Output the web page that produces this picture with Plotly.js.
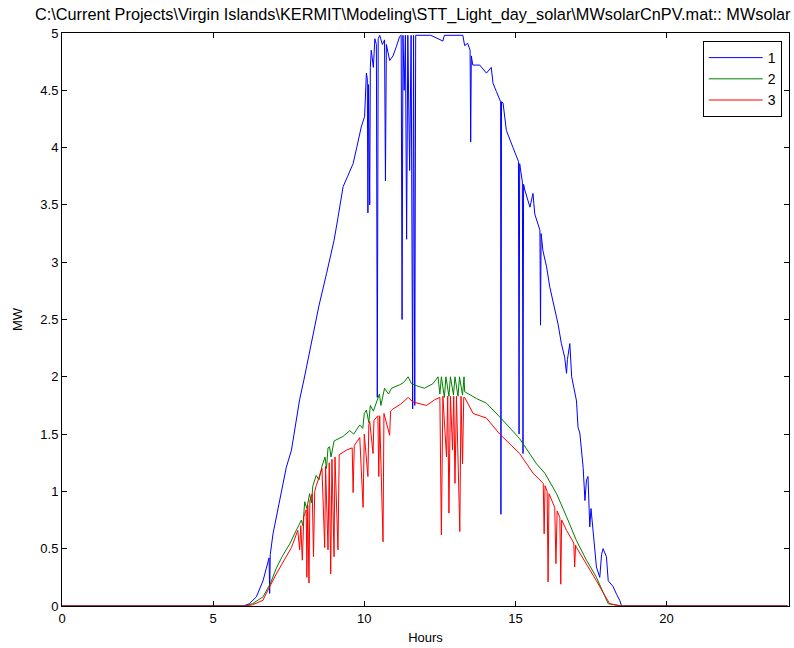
<!DOCTYPE html>
<html>
<head>
<meta charset="utf-8">
<script src="https://cdn.plot.ly/plotly-3.0.1.min.js"></script>
<style>
html,body{margin:0;padding:0;background:#fff;}
#chart{width:794px;height:648px;}
</style>
</head>
<body>
<div id="chart"></div>
<script>
// Series 1 (blue)
var hours1 = [0,6.0,6.2,6.43,6.65,6.81,6.85,6.87,6.89,6.98,7.2,7.42,7.59,7.75,7.86,8.0,8.25,8.5,8.75,9.0,9.13,9.3,9.45,9.63,9.75,9.9,10.01,10.07,10.1,10.12,10.14,10.18,10.2,10.23,10.3,10.35,10.4,10.43,10.46,10.51,10.6,10.67,10.7,10.73,10.84,10.95,11.06,11.17,11.22,11.25,11.28,11.32,11.36,11.4,11.44,11.5,11.55,11.6,11.63,11.67,11.7,11.8,12.2,12.6,12.65,13.0,13.26,13.32,13.42,13.5,13.52,13.54,13.59,13.82,14.04,14.2,14.26,14.37,14.48,14.51,14.52,14.54,14.59,14.7,14.92,15.1,15.12,15.14,15.23,15.25,15.27,15.31,15.48,15.58,15.64,15.81,15.83,15.85,15.91,16.03,16.14,16.41,16.52,16.63,16.69,16.72,16.8,16.86,17.02,17.07,17.13,17.2,17.24,17.3,17.35,17.4,17.46,17.5,17.57,17.63,17.68,17.79,17.85,17.9,18.01,18.07,18.23,18.35,18.45,18.51,24];
var mw1 = [0,0,0.02,0.08,0.22,0.40,0.42,0.11,0.45,0.63,0.92,1.21,1.36,1.62,1.80,1.97,2.30,2.62,2.90,3.19,3.39,3.66,3.75,3.86,4.00,4.18,4.27,4.65,4.60,3.43,4.55,3.50,4.70,4.85,4.70,4.95,4.90,1.82,4.95,4.98,4.90,4.94,3.71,4.90,4.76,4.80,4.88,4.97,4.98,2.50,4.98,4.50,4.98,3.20,4.98,3.80,4.98,1.72,4.98,1.75,4.98,4.98,4.98,4.93,4.98,4.98,4.98,4.89,4.91,4.85,4.05,4.80,4.72,4.72,4.65,4.70,4.56,4.49,4.42,4.40,0.80,4.40,4.39,4.15,4.00,3.88,1.50,3.86,3.70,1.33,3.68,3.63,3.48,3.60,3.42,3.28,2.45,3.25,3.10,2.96,2.78,2.46,2.29,2.17,2.03,2.15,2.29,2.00,1.79,1.56,1.51,1.35,1.21,0.92,1.10,1.13,0.69,0.85,0.63,0.49,0.34,0.25,0.45,0.50,0.43,0.22,0.17,0.10,0.05,0,0];

// Series 2 (green)
var hours2 = [0,6.04,6.3,6.65,6.9,7.09,7.3,7.53,7.75,7.92,7.97,8.03,8.1,8.19,8.25,8.3,8.41,8.5,8.6,8.7,8.75,8.8,8.85,8.9,9.0,9.08,9.3,9.52,9.65,9.85,9.95,10.0,10.07,10.15,10.2,10.3,10.4,10.5,10.55,10.67,10.8,10.9,11.17,11.3,11.45,11.56,11.75,11.99,12.27,12.44,12.5,12.55,12.65,12.7,12.8,12.85,12.95,13.0,13.1,13.15,13.25,13.3,13.32,13.71,14.04,14.48,15.14,15.7,15.97,16.36,16.69,17.02,17.35,17.68,17.9,18.07,18.5,24];
var mw2 = [0,0,0.02,0.08,0.20,0.33,0.44,0.54,0.66,0.75,0.70,0.91,0.85,0.98,0.90,1.05,1.14,1.10,1.22,1.30,1.20,1.38,1.39,1.30,1.44,1.45,1.48,1.53,1.50,1.58,1.55,1.68,1.71,1.60,1.75,1.70,1.78,1.85,1.75,1.90,1.85,1.90,1.93,1.95,2.00,1.94,1.92,1.90,1.94,2.00,1.85,2.00,1.82,2.00,1.83,2.00,1.84,2.00,1.83,2.00,1.84,2.00,1.87,1.81,1.77,1.65,1.46,1.24,1.16,0.98,0.78,0.57,0.40,0.25,0.12,0.02,0,0];

// Series 3 (red)
var hours3 = [0,6.04,6.3,6.65,6.7,7.09,7.59,7.8,7.86,7.9,7.95,8.0,8.08,8.1,8.13,8.17,8.2,8.28,8.32,8.36,8.41,8.5,8.6,8.69,8.72,8.8,8.84,8.89,8.93,9.0,9.03,9.13,9.17,9.41,9.6,9.63,9.67,9.85,9.96,10.0,10.12,10.15,10.18,10.29,10.32,10.45,10.48,10.51,10.62,10.65,10.84,10.87,10.95,11.2,11.45,11.61,12.06,12.33,12.5,12.55,12.6,12.72,12.76,12.8,12.85,12.92,12.96,13.0,13.05,13.16,13.2,13.25,13.29,13.32,13.6,14.04,14.48,15.14,15.58,15.92,15.95,15.98,16.05,16.08,16.11,16.3,16.34,16.38,16.47,16.5,16.53,16.69,16.93,16.96,16.99,17.02,17.35,17.68,17.96,18.12,18.5,24];
var mw3 = [0,0,0.01,0.05,0.08,0.28,0.51,0.66,0.49,0.70,0.40,0.78,0.84,0.25,0.88,0.20,0.92,0.98,0.43,1.00,1.05,1.12,1.20,0.51,1.22,0.49,1.25,0.28,1.28,0.43,1.30,0.49,1.32,1.36,1.38,0.99,1.40,1.47,0.86,1.50,1.13,1.58,1.61,1.33,1.62,1.66,1.13,1.66,0.56,1.68,1.49,1.70,1.72,1.76,1.82,1.78,1.75,1.80,1.82,0.62,1.83,1.30,1.83,0.81,1.83,1.36,1.83,1.07,1.83,0.65,1.83,1.24,1.82,1.82,1.68,1.64,1.50,1.33,1.16,1.07,0.63,1.05,1.00,0.21,0.98,0.86,0.37,0.83,0.77,0.19,0.75,0.66,0.55,0.34,0.53,0.51,0.37,0.22,0.09,0.02,0,0];

var seriesNames = ['1','2','3'];
var xTicks = [0,5,10,15,20];
var yTicks = [0,0.5,1,1.5,2,2.5,3,3.5,4,4.5,5];
var yTickText = ['0','0.5','1','1.5','2','2.5','3','3.5','4','4.5','5'];
var titleText = 'C:\\Current Projects\\Virgin Islands\\KERMIT\\Modeling\\STT_Light_day_solar\\MWsolarCnPV.mat:: MWsolar';

var FONT = 'Liberation Sans, Arial, Helvetica, sans-serif';

var traces = [
  {x: hours1, y: mw1, name: seriesNames[0], mode: 'lines', line: {color: '#0000ff', width: 1}},
  {x: hours2, y: mw2, name: seriesNames[1], mode: 'lines', line: {color: '#008000', width: 1}},
  {x: hours3, y: mw3, name: seriesNames[2], mode: 'lines', line: {color: '#ff0000', width: 1}}
];

var layout = {
  width: 794, height: 648,
  margin: {l: 62, r: 5, t: 33, b: 42, pad: 0},
  paper_bgcolor: '#ffffff', plot_bgcolor: '#ffffff',
  font: {family: FONT, size: 13, color: '#000'},
  showlegend: true,
  title: {text: titleText, font: {family: FONT, size: 16.3, color: '#000'},
          xref: 'container', x: 35/794, xanchor: 'left', yref: 'container', y: 1 - 14/648, yanchor: 'middle'},
  xaxis: {
    range: [0, 24.05], tickvals: xTicks, ticktext: xTicks.map(String),
    ticks: 'inside', ticklen: 5, tickcolor: '#000', tickwidth: 1,
    showline: true, linecolor: '#000', linewidth: 1, mirror: 'ticks',
    showgrid: false, zeroline: false,
    title: {text: 'Hours', font: {family: FONT, size: 13}, standoff: 8},
    tickfont: {family: FONT, size: 13}
  },
  yaxis: {
    range: [0, 5], tickvals: yTicks, ticktext: yTickText,
    ticks: 'inside', ticklen: 5, tickcolor: '#000', tickwidth: 1,
    showline: true, linecolor: '#000', linewidth: 1, mirror: 'ticks',
    showgrid: false, zeroline: false,
    title: {text: 'MW', font: {family: FONT, size: 13}, standoff: 14},
    tickfont: {family: FONT, size: 13}
  },
  legend: {
    x: 0.990, y: 0.986, xanchor: 'right', yanchor: 'top',
    bgcolor: '#ffffff', bordercolor: '#000', borderwidth: 1,
    font: {family: FONT, size: 14, color: '#000'},
    itemwidth: 54
  }
};

Plotly.newPlot('chart', traces, layout, {displayModeBar: false, staticPlot: true});
</script>
</body>
</html>
